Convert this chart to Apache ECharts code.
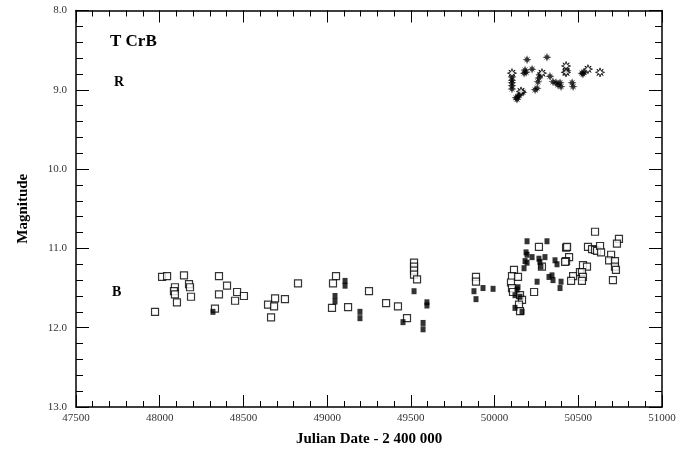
<!DOCTYPE html>
<html>
<head>
<meta charset="utf-8">
<script src="https://cdn.jsdelivr.net/npm/echarts@6/dist/echarts.min.js"></script>
<style>html,body{margin:0;padding:0;background:#fff}#c{width:686px;height:449px}</style>
</head>
<body>
<div id="c"></div>
<script>
// Tick settings
const xTicks = [47500, 48000, 48500, 49000, 49500, 50000, 50500, 51000];
const yTicks = [8, 9, 10, 11, 12, 13];

// B band, open squares [JD-2400000, mag]
const bOpen = [
  [48014,11.36],[48044,11.35],[48145,11.34],[48091,11.49],[48085,11.54],[48091,11.58],
  [48175,11.45],[48181,11.49],[48187,11.61],[48103,11.68],[47972,11.80],[48354,11.35],
  [48402,11.47],[48354,11.58],[48462,11.55],[48503,11.60],[48450,11.66],[48330,11.76],
  [48826,11.44],[48689,11.63],[48748,11.64],[48647,11.71],[48683,11.73],[48665,11.87],
  [49053,11.35],[49035,11.44],[49029,11.75],[49125,11.74],[49250,11.54],[49352,11.69],
  [49423,11.73],[49477,11.88],[49519,11.18],[49519,11.23],[49519,11.28],[49519,11.33],
  [49537,11.39],
  [49889,11.36],[49889,11.42],[50116,11.27],[50104,11.35],[50098,11.43],[50104,11.50],
  [50110,11.55],[50140,11.36],[50152,11.59],[50164,11.65],[50146,11.71],[50152,11.79],
  [50236,11.55],[50265,10.98],[50283,11.23],[50427,10.99],[50445,11.11],[50427,11.16],
  [50469,11.35],[50457,11.41],[50510,11.30],[50433,10.98],[50421,11.17],
  [50600,10.79],[50558,10.98],[50582,11.01],[50600,11.02],[50612,11.03],[50630,10.97],
  [50636,11.05],[50743,10.88],[50731,10.94],[50696,11.08],[50684,11.15],[50719,11.16],
  [50719,11.23],[50725,11.27],[50707,11.40],[50528,11.21],[50552,11.23],[50522,11.30],
  [50528,11.36],[50522,11.41]
];

// B band, filled squares
const bFilled = [
  [48318,11.80],[49107,11.41],[49107,11.47],[49047,11.60],[49047,11.67],[49196,11.80],
  [49196,11.88],[49519,11.54],[49596,11.68],[49596,11.72],[49453,11.93],[49573,11.94],
  [49573,12.02],
  [49877,11.54],[49931,11.50],[49991,11.51],[49889,11.64],[50194,10.91],[50313,10.91],
  [50188,11.05],[50194,11.08],[50224,11.11],[50182,11.16],[50194,11.18],[50176,11.25],
  [50265,11.13],[50271,11.17],[50301,11.11],[50277,11.23],[50254,11.42],[50325,11.36],
  [50343,11.34],[50349,11.40],[50361,11.15],[50373,11.20],[50397,11.42],[50391,11.50],
  [50140,11.49],[50134,11.52],[50122,11.59],[50152,11.61],[50122,11.75],[50164,11.80]
];

// R band, filled stars
const rFilled = [
  [50104,8.84],[50104,8.88],[50104,8.91],[50104,8.95],[50104,8.99],
  [50128,9.10],[50140,9.09],[50146,9.07],[50158,9.04],[50170,9.03],[50134,9.12],
  [50194,8.62],[50182,8.75],[50188,8.78],[50176,8.79],[50224,8.74],[50313,8.59],
  [50242,9.00],[50254,8.98],[50271,8.81],[50265,8.85],[50259,8.90],
  [50331,8.83],[50349,8.90],[50367,8.91],[50379,8.94],[50391,8.91],[50397,8.96],
  [50433,8.76],[50421,8.78],[50463,8.91],[50469,8.96],
  [50522,8.79],[50534,8.78],[50528,8.80]
];

// R band, open stars
const rOpen = [
  [50104,8.79],[50427,8.70],[50427,8.78],[50283,8.79],[50558,8.74],[50630,8.78],[50158,9.02]
];

const serif = '"Liberation Serif", "DejaVu Serif", serif';
const star = 'path://M0,-10 L2.2,-3.5 L7,-7 L3.5,-2.2 L10,0 L3.5,2.2 L7,7 L2.2,3.5 L0,10 L-2.2,3.5 L-7,7 L-3.5,2.2 L-10,0 L-3.5,-2.2 L-7,-7 L-2.2,-3.5 Z';

const axisLine = {show: true, lineStyle: {color: '#000', width: 1.5}};
function xAxisDef(pos, labels) {
  return {
    type: 'value', position: pos, min: xTicks[0], max: xTicks[xTicks.length-1],
    interval: xTicks[1]-xTicks[0],
    axisLine: axisLine,
    axisTick: {show: true, inside: true, length: 12, lineStyle: {color: '#000', width: 1}},
    minorTick: {show: true, splitNumber: 5, length: 6, lineStyle: {color: '#000', width: 1}},
    splitLine: {show: false},
    axisLabel: {show: labels, color: '#333', fontFamily: serif, fontSize: 11, margin: 6,
      formatter: v => String(v)},
    name: labels ? 'Julian Date - 2 400 000' : '',
    nameLocation: 'middle', nameGap: 25,
    nameTextStyle: {fontFamily: serif, fontWeight: 'bold', fontSize: 15, color: '#000'}
  };
}
function yAxisDef(pos, labels) {
  return {
    type: 'value', position: pos, inverse: true, min: yTicks[0], max: yTicks[yTicks.length-1],
    interval: 1,
    axisLine: axisLine,
    axisTick: {show: true, inside: true, length: 13, lineStyle: {color: '#000', width: 1}},
    minorTick: {show: true, splitNumber: 5, length: 7, lineStyle: {color: '#000', width: 1}},
    splitLine: {show: false},
    axisLabel: {show: labels, color: '#333', fontFamily: serif, fontSize: 11, margin: 9,
      formatter: v => v.toFixed(1)},
    name: labels ? 'Magnitude' : '',
    nameLocation: 'middle', nameGap: 45, nameRotate: 90,
    nameTextStyle: {fontFamily: serif, fontWeight: 'bold', fontSize: 15, color: '#000'}
  };
}

const chart = echarts.init(document.getElementById('c'), null, {renderer: 'canvas'});
chart.setOption({
  animation: false,
  backgroundColor: '#fff',
  grid: {left: 76, right: 24, top: 10.5, bottom: 42, outerBoundsMode: 'none', containLabel: false},
  xAxis: [xAxisDef('bottom', true), xAxisDef('top', false)],
  yAxis: [yAxisDef('left', true), yAxisDef('right', false)],
  graphic: [
    {type: 'text', left: 110, top: 33, style: {text: 'T CrB', font: 'bold 17px ' + serif, fill: '#000'}},
    {type: 'text', left: 114, top: 75, style: {text: 'R', font: 'bold 14px ' + serif, fill: '#000'}},
    {type: 'text', left: 112, top: 285, style: {text: 'B', font: 'bold 14px ' + serif, fill: '#000'}}
  ],
  series: [
    {type: 'scatter', data: bOpen, symbol: 'rect', symbolSize: 7,
      itemStyle: {color: '#fff', borderColor: '#000', borderWidth: 1.2}},
    {type: 'scatter', data: bFilled, symbol: 'rect', symbolSize: [5, 6],
      itemStyle: {color: '#000'}},
    {type: 'scatter', data: rFilled, symbol: star, symbolSize: 9,
      itemStyle: {color: '#000'}},
    {type: 'scatter', data: rOpen, symbol: star, symbolSize: 9,
      itemStyle: {color: '#fff', borderColor: '#000', borderWidth: 1}}
  ]
});
</script>
</body>
</html>
